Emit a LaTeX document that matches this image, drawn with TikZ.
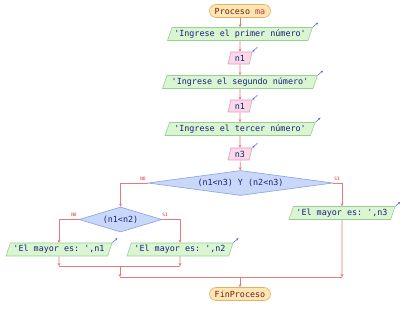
\documentclass[tikz,border=0pt]{standalone}
\usepackage{fontspec}
\setmonofont{DejaVu Sans Mono}
\usetikzlibrary{shapes.geometric,arrows.meta,calc}
\definecolor{pillfill}{HTML}{FCE6B4}
\definecolor{pilldraw}{HTML}{E2B262}
\definecolor{outfill}{HTML}{D9F5D2}
\definecolor{outdraw}{HTML}{98D092}
\definecolor{infill}{HTML}{F9D9E8}
\definecolor{indraw}{HTML}{E59BBE}
\definecolor{decfill}{HTML}{C9D8F8}
\definecolor{decdraw}{HTML}{8AA2E2}
\definecolor{txtblue}{HTML}{18227A}
\definecolor{conn}{HTML}{E87A7A}
\definecolor{ioarrow}{HTML}{4A64E0}
\definecolor{maroon}{HTML}{702010}
\definecolor{redtxt}{HTML}{D83030}
\tikzset{
  every node/.style={font=\ttfamily\fontsize{8.4}{10}\selectfont},
  pill/.style={draw=pilldraw, fill=pillfill, rounded corners=6.5pt, line width=0.6pt,
    minimum width=61pt, minimum height=13pt, inner sep=0pt, text=maroon},
  outbox/.style={draw=outdraw, fill=outfill, trapezium, trapezium left angle=62,
    trapezium right angle=118, trapezium stretches body, line width=0.6pt,
    minimum height=13pt, inner ysep=0pt, inner xsep=1pt, text=txtblue},
  inbox/.style={draw=indraw, fill=infill, trapezium, trapezium left angle=66,
    trapezium right angle=114, trapezium stretches body, line width=0.6pt,
    minimum height=12pt, inner ysep=0pt, inner xsep=1pt, text=txtblue},
  decbox/.style={draw=decdraw, fill=decfill, diamond, line width=0.6pt, inner sep=0pt, text=txtblue},
  flow/.style={draw=conn, line width=0.7pt, -{Stealth[length=3pt,width=3pt]}},
  flowline/.style={draw=conn, line width=0.7pt},
  ioout/.style={draw=ioarrow, line width=0.5pt, -{Stealth[length=2.3pt,width=2.3pt]}},
  lbl/.style={font=\ttfamily\fontsize{4.5}{5}\selectfont, text=redtxt, inner sep=0pt},
}
\begin{document}
\begin{tikzpicture}[x=1pt,y=-1pt]
\useasboundingbox (0,0) rectangle (400,310);
\fill[white] (0,0) rectangle (400,310);

\node[pill] (start) at (240,11) {Proceso \textcolor{redtxt}{ma}};
\node[outbox, minimum width=145pt] (o1) at (240,34) {'Ingrese el primer número'};
\node[inbox, minimum width=24pt] (i1) at (240,58) {n1};
\node[outbox, minimum width=155pt] (o2) at (240,82) {'Ingrese el segundo número'};
\node[inbox, minimum width=24pt] (i2) at (240,106) {n1};
\node[outbox, minimum width=150pt] (o3) at (240,129) {'Ingrese el tercer número'};
\node[inbox, minimum width=24pt] (i3) at (240,154) {n3};
\node[decbox, aspect=7.4, minimum width=185pt, minimum height=25pt] (d1) at (240.5,183) {(n1<n3) Y (n2<n3)};
\node[decbox, aspect=3.3, minimum width=83pt, minimum height=25pt] (d2) at (120.5,219.5) {(n1<n2)};
\node[outbox, minimum width=106pt] (r1) at (59,249.5) {'El mayor es: ',n1};
\node[outbox, minimum width=106pt] (r2) at (180,249.5) {'El mayor es: ',n2};
\node[outbox, minimum width=106pt] (r3) at (342,213) {'El mayor es: ',n3};
\node[pill] (fin) at (240,294) {FinProceso};

% I/O marks
\foreach \n in {o1,o2,o3,r1,r2,r3}{
  \draw[ioout] (\n.top right corner) -- ++(5,-4.5);
}
\foreach \n in {i1,i2,i3}{
  \draw[ioout] ($(\n.top right corner)+(5,-4.5)$) -- (\n.top right corner);
}

% main chain
\draw[flow] (start) -- (o1);
\draw[flow] (o1) -- (i1);
\draw[flow] (i1) -- (o2);
\draw[flow] (o2) -- (i2);
\draw[flow] (i2) -- (o3);
\draw[flow] (o3) -- (i3);
\draw[flow] (i3) -- (d1);

% decision 1
\draw[flow] (d1.west) -| (d2.north);
\draw[flow] (d1.east) -| (r3.north);
\node[lbl] (no1) at (143,178.5) {NO};
\node[lbl] (si1) at (337,178.5) {SI};

% decision 2
\draw[flow] (d2.west) -| (r1.north);
\draw[flow] (d2.east) -| (r2.north);
\node[lbl] (no2) at (74,215) {NO};
\node[lbl] (si2) at (165,215) {SI};

% merges
\coordinate (m1) at (59,266);
\coordinate (m2) at (180,266);
\coordinate (m3) at (120,266);
\coordinate (m4) at (120,277);
\coordinate (m5) at (342,277);
\coordinate (m6) at (240,277);
\draw[flow] (r1.south) -- (m1);
\draw[flow] (r2.south) -- (m2);
\draw[flowline] (m1) -- (m2);
\draw[flow] (m3) -- (m4);
\draw[flowline] (m4) -- (m5);
\draw[flow] (r3.south) -- (m5);
\draw[flow] (m6) -- (fin.north);
\end{tikzpicture}
\end{document}
